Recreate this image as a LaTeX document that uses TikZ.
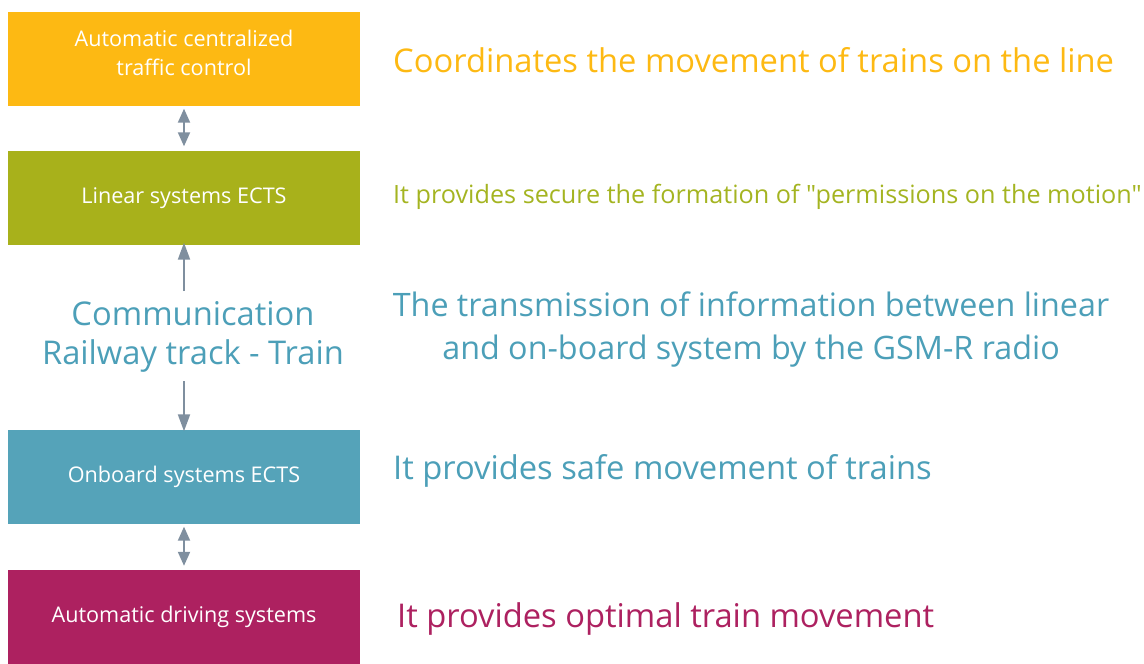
\documentclass[tikz,border=0pt]{standalone}
\usepackage{fontspec}
\setmainfont{Open Sans}[Ligatures=TeXOff]
\usetikzlibrary{arrows.meta}
\definecolor{ctcOrange}{HTML}{FDB913}
\definecolor{ctcGreen}{HTML}{A8B11B}
\definecolor{ctcGreenText}{HTML}{A4B421}
\definecolor{ctcTeal}{HTML}{55A3B9}
\definecolor{ctcTealText}{HTML}{4C9FB8}
\definecolor{ctcMagenta}{HTML}{AD2160}
\definecolor{ctcArrow}{HTML}{7F8F9F}
\newcommand{\fs}[2]{\fontsize{#1}{#2}\selectfont}
\tikzset{
  sysbox/.style={minimum width=352pt, minimum height=94pt, inner sep=0pt},
  boxlabel/.style={text=white, align=center, inner sep=0pt, font=\fs{21.6}{29}},
  desc/.style={anchor=base west, inner sep=0pt, font=\fs{32.7}{43}},
  link/.style={draw=ctcArrow, line width=2pt},
  dbl/.style={link, {Triangle[width=12pt,length=14pt]}-{Triangle[width=12pt,length=14pt]}, shorten <=3pt, shorten >=4pt},
  uni/.style={link, -{Triangle[width=12pt,length=17pt]}}
}
\begin{document}
\begin{tikzpicture}[x=1pt,y=-1pt]
\useasboundingbox (0,0) rectangle (1144,664);
% system blocks
\node[sysbox, fill=ctcOrange] (atc) at (184,58.5) {};
\node[sysbox, fill=ctcGreen] (lin) at (184,197.5) {};
\node[sysbox, fill=ctcTeal] (onb) at (184,476.5) {};
\node[sysbox, fill=ctcMagenta, minimum height=96pt] (ads) at (184,618) {};
\node[boxlabel] (atcT) at ([yshift=6pt]atc.center) {Automatic centralized\\traffic control};
\node[boxlabel] (linT) at ([yshift=-1pt]lin.center) {Linear systems ECTS};
\node[boxlabel] (onbT) at (onb.center) {Onboard systems ECTS};
\node[boxlabel] (adsT) at ([yshift=1pt]ads.center) {Automatic driving systems};
% track-to-train communication
\node[text=ctcTealText, align=center, font=\fs{32.7}{39}, inner sep=0pt] (com) at (193,337)
  {Communication\\Railway track - Train};
% connectors
\draw[dbl] (atc.south) -- (lin.north);
\draw[dbl] (onb.south) -- (ads.north);
\coordinate (comTop) at (lin.south |- 0,291);
\coordinate (comBot) at (onb.north |- 0,381);
\draw[uni] (comTop) -- ([yshift=2pt]lin.south);
\draw[uni] (comBot) -- ([yshift=-2pt]onb.north);
% descriptions
\node[desc, text=ctcOrange] (d1) at (393,72) {Coordinates the movement of trains on the line};
\node[desc, text=ctcGreenText, font=\fs{25.2}{30}] (d2) at (393,203) {It provides secure the formation of "permissions on the motion"};
\node[text=ctcTealText, align=center, font=\fs{32.3}{43}, inner sep=0pt] (d3) at (751,330)
  {The transmission of information between linear\\and on-board system by the GSM-R radio};
\node[desc, text=ctcTealText] (d4) at (393,479) {It provides safe movement of trains};
\node[desc, text=ctcMagenta] (d5) at (397,627) {It provides optimal train movement};
\end{tikzpicture}
\end{document}
